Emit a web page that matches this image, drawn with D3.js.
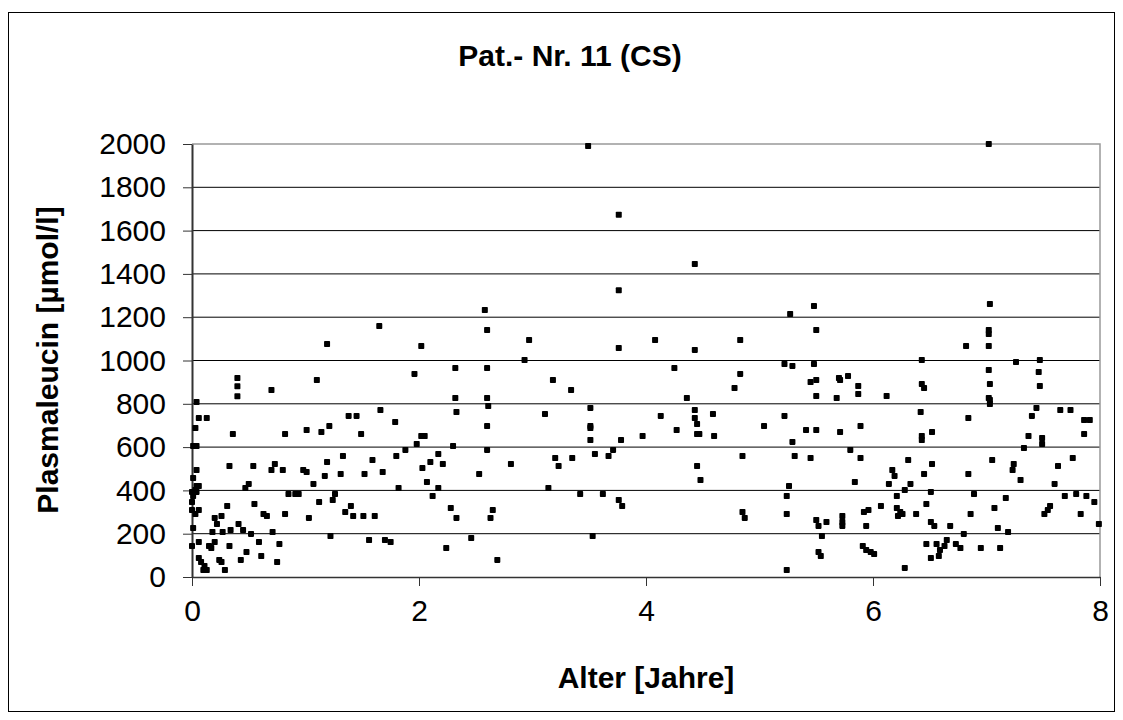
<!DOCTYPE html>
<html>
<head>
<meta charset="utf-8">
<script src="https://cdn.jsdelivr.net/npm/d3@7"></script>
<style>
  body { margin: 0; background: #fff; }
  text { font-family: "Liberation Sans", Arial, sans-serif; fill: #000; }
</style>
</head>
<body>
<div id="chart"></div>
<script>
// Chart texts and ticks
var chartTitle = "Pat.- Nr. 11 (CS)";
var xTitle = "Alter [Jahre]";
var yTitle = "Plasmaleucin [µmol/l]";
var xTicks = [0, 2, 4, 6, 8];
var yTicks = [0, 200, 400, 600, 800, 1000, 1200, 1400, 1600, 1800, 2000];

// Age of the patient in years (one entry per measurement)
var alter = [
  1.19, 0.40, 0.40, 0.40, 0.70, 1.10, 0.04, 0.06, 0.13, 0.03,
  0.36, 0.82, 1.01, 1.14, 1.21, 0.01, 0.04, 1.33, 0.04, 0.01,
  0.33, 0.54, 0.73, 0.70, 0.80, 0.98, 1.01, 1.19, 1.17, 1.31,
  0.50, 0.47, 1.07, 1.26, 1.24, 0.04, 0.06, 0.00, 0.03, 0.04,
  0.01, 0.00, 0.85, 0.91, 0.94, 1.12, 1.35, 0.31, 0.55, 0.63,
  0.66, 0.82, 1.03, 0.00, 0.06, 0.03, 0.20, 0.26, 0.22, 0.41,
  0.01, 0.18, 0.27, 0.34, 0.45, 0.52, 0.71, 1.22, 0.00, 0.06,
  0.15, 0.20, 0.17, 0.33, 0.59, 0.77, 0.48, 0.43, 0.61, 0.75,
  0.06, 0.08, 0.11, 0.10, 0.13, 0.24, 0.26, 0.29,

  2.58, 1.65, 2.60, 2.02, 1.96, 2.32, 2.60, 2.32, 2.60, 2.61,
  2.33, 1.38, 1.45, 1.66, 1.79, 1.49, 2.60, 2.02, 2.05, 1.98,
  1.88, 1.80, 2.30, 2.60, 1.59, 2.17, 2.10, 2.03, 2.21, 1.52,
  1.68, 2.53, 2.07, 1.82, 2.17, 2.12, 2.28, 2.33, 2.65, 2.63,
  1.40, 1.42, 1.51, 1.61, 1.56, 1.70, 1.75, 2.24, 2.46, 2.69,

  3.49, 3.76, 3.76, 2.97, 2.93, 3.76, 4.08, 3.18, 3.34, 3.11,
  3.51, 3.51, 3.51, 3.51, 3.78, 3.97, 2.81, 3.20, 3.23, 3.35,
  3.55, 3.71, 3.67, 3.14, 3.42, 3.62, 3.76, 3.79, 3.53,

  4.43, 5.27, 4.83, 4.43, 5.22, 5.29, 4.25, 4.83, 4.78, 4.36,
  4.13, 4.43, 4.43, 4.45, 4.59, 4.27, 4.45, 4.47, 4.60, 5.04,
  5.22, 5.29, 4.85, 5.31, 4.45, 4.48, 5.26, 5.24, 4.85, 4.87,
  5.24, 5.24,

  5.48, 5.50, 5.48, 5.45, 5.50, 5.50, 5.70, 5.71, 5.78, 5.68,
  5.87, 5.87, 6.12, 6.43, 6.43, 6.45, 6.42, 6.43, 6.43, 6.52,
  5.41, 5.50, 5.71, 5.89, 5.45, 5.80, 5.89, 5.84, 6.31, 6.52,
  6.45, 6.17, 6.19, 6.14, 6.33, 6.28, 6.21, 6.51, 6.47, 6.07,
  5.96, 5.92, 6.21, 6.24, 6.22, 6.26, 6.38, 5.50, 5.52, 5.59,
  5.73, 5.73, 5.73, 5.94, 6.51, 6.54, 6.68, 5.55, 5.52, 5.54,
  5.91, 5.94, 5.98, 6.01, 6.47, 6.56, 6.59, 6.65, 6.58, 6.51,
  6.63, 6.73, 6.28,

  7.02, 7.03, 7.02, 7.02, 7.02, 6.82, 7.02, 7.03, 7.02, 7.03,
  7.03, 7.26, 7.47, 7.46, 7.47, 7.44, 7.40, 7.65, 7.74, 7.86,
  7.91, 7.86, 6.84, 7.37, 7.49, 7.49, 7.33, 7.05, 7.24, 7.23,
  7.30, 6.84, 7.63, 7.76, 7.60, 6.89, 7.17, 7.69, 7.79, 7.88,
  7.95, 7.07, 6.86, 7.56, 7.54, 7.51, 7.83, 7.99, 7.10, 7.19,
  6.80, 6.77, 6.95, 7.12
];

// Plasma leucine in µmol/l, same order as alter
var leucin = [
  1076, 919, 881, 835, 864, 910, 808, 734, 734, 688,
  660, 660, 679, 670, 697, 605, 605, 559, 494, 457,
  513, 513, 522, 494, 494, 494, 485, 531, 467, 476,
  430, 411, 430, 383, 356, 420, 420, 393, 402, 393,
  374, 346, 383, 383, 383, 346, 300, 328, 337, 291,
  282, 291, 273, 309, 309, 291, 273, 282, 245, 245,
  226, 208, 208, 217, 217, 199, 208, 189, 143, 162,
  143, 162, 134, 143, 162, 152, 115, 79, 97, 69,
  88, 69, 51, 32, 32, 79, 69, 32,

  1233, 1159, 1141, 1067, 938, 965, 965, 827, 827, 790,
  762, 744, 744, 771, 716, 660, 697, 651, 651, 614,
  587, 559, 605, 587, 540, 568, 531, 503, 522, 476,
  485, 476, 439, 411, 411, 374, 319, 273, 309, 273,
  328, 282, 282, 282, 171, 171, 162, 134, 180, 79,

  1991, 1673, 1324, 1095, 1002, 1058, 1095, 910, 864, 753,
  781, 697, 688, 633, 633, 651, 522, 550, 513, 550,
  568, 587, 559, 411, 383, 383, 356, 328, 189,

  1446, 1215, 1095, 1049, 984, 975, 965, 938, 873, 827,
  744, 771, 734, 707, 753, 679, 660, 660, 651, 697,
  744, 624, 559, 559, 513, 448, 420, 374, 300, 273,
  291, 32,

  1252, 1141, 984, 901, 910, 836, 919, 910, 928, 827,
  882, 845, 836, 1002, 891, 873, 762, 651, 633, 670,
  679, 679, 670, 697, 550, 587, 550, 439, 540, 522,
  476, 494, 467, 430, 430, 402, 374, 393, 337, 328,
  309, 300, 319, 300, 282, 291, 291, 263, 236, 254,
  282, 254, 236, 236, 254, 236, 236, 189, 115, 97,
  143, 125, 115, 106, 152, 152, 125, 171, 97, 88,
  143, 152, 42,

  2000, 1261, 1141, 1122, 1067, 1067, 956, 891, 827, 818,
  799, 993, 1002, 947, 882, 781, 744, 771, 771, 725,
  725, 660, 734, 651, 642, 614, 596, 540, 522, 494,
  448, 476, 513, 550, 430, 383, 365, 374, 383, 374,
  346, 319, 291, 328, 309, 291, 291, 245, 226, 208,
  199, 134, 134, 134
];

var svgWidth = 1123;
var svgHeight = 720;

// plot area inside the svg
var margin = { top: 144, right: 23, bottom: 143, left: 192 };
var chartWidth = svgWidth - margin.left - margin.right;
var chartHeight = svgHeight - margin.top - margin.bottom;

var svg = d3.select("#chart")
  .append("svg")
  .attr("width", svgWidth)
  .attr("height", svgHeight);

// outer frame of the chart
svg.append("rect")
  .attr("x", 8.5)
  .attr("y", 12.5)
  .attr("width", 1106)
  .attr("height", 699)
  .attr("fill", "#fff")
  .attr("stroke", "#000")
  .attr("stroke-width", 1);

var chartGroup = svg.append("g")
  .attr("transform", `translate(${margin.left}, ${margin.top})`);

var xScale = d3.scaleLinear().domain([0, 8]).range([0, chartWidth]);
var yScale = d3.scaleLinear().domain([0, 2000]).range([chartHeight, 0]);

// horizontal gridlines
chartGroup.append("g")
  .selectAll("line")
  .data(yTicks.filter(d => d > 0 && d < 2000))
  .enter()
  .append("line")
  .attr("x1", 0)
  .attr("x2", chartWidth)
  .attr("y1", d => yScale(d))
  .attr("y2", d => yScale(d))
  .attr("stroke", "#000")
  .attr("stroke-width", 1);

// grey top and right edge of the plot area
chartGroup.append("path")
  .attr("d", `M0,${yScale(2000)}H${chartWidth}V${chartHeight}`)
  .attr("fill", "none")
  .attr("stroke", "#999")
  .attr("stroke-width", 1.5);

// y axis
var leftAxis = d3.axisLeft(yScale)
  .tickValues(yTicks)
  .tickFormat(d3.format("d"))
  .tickSize(9)
  .tickSizeOuter(0)
  .tickPadding(17);

var yAxisGroup = chartGroup.append("g").call(leftAxis);
yAxisGroup.select(".domain").attr("stroke", "#333").attr("stroke-width", 2);
yAxisGroup.selectAll(".tick line").attr("stroke", "#333");
yAxisGroup.selectAll(".tick text")
  .attr("font-size", "30px")
  .attr("font-family", "'Liberation Sans', Arial, sans-serif")
  .attr("fill", "#000");

// x axis
var bottomAxis = d3.axisBottom(xScale)
  .tickValues(xTicks)
  .tickFormat(d3.format("d"))
  .tickSize(9)
  .tickSizeOuter(0)
  .tickPadding(14);

var xAxisGroup = chartGroup.append("g")
  .attr("transform", `translate(0, ${chartHeight})`)
  .call(bottomAxis);
xAxisGroup.select(".domain").attr("stroke", "#333").attr("stroke-width", 1.5);
xAxisGroup.selectAll(".tick line").attr("stroke", "#333");
xAxisGroup.selectAll(".tick text")
  .attr("font-size", "30px")
  .attr("font-family", "'Liberation Sans', Arial, sans-serif")
  .attr("fill", "#000");

// data points as small black squares
var points = d3.range(alter.length).map(i => ({ x: alter[i], y: leucin[i] }));
var size = 6;

chartGroup.append("g")
  .selectAll("rect")
  .data(points)
  .enter()
  .append("rect")
  .attr("x", d => xScale(d.x) - size / 2)
  .attr("y", d => yScale(d.y) - size / 2)
  .attr("width", size)
  .attr("height", size)
  .attr("rx", 0.8)
  .attr("fill", "#000");

// title
svg.append("text")
  .attr("x", 570)
  .attr("y", 66)
  .attr("text-anchor", "middle")
  .attr("font-size", "30px")
  .attr("font-weight", "bold")
  .text(chartTitle);

// x axis title
svg.append("text")
  .attr("x", 646)
  .attr("y", 688)
  .attr("text-anchor", "middle")
  .attr("font-size", "30px")
  .attr("font-weight", "bold")
  .text(xTitle);

// y axis title
svg.append("text")
  .attr("transform", "translate(58, 360) rotate(-90)")
  .attr("text-anchor", "middle")
  .attr("font-size", "30px")
  .attr("font-weight", "bold")
  .text(yTitle);
</script>
</body>
</html>
